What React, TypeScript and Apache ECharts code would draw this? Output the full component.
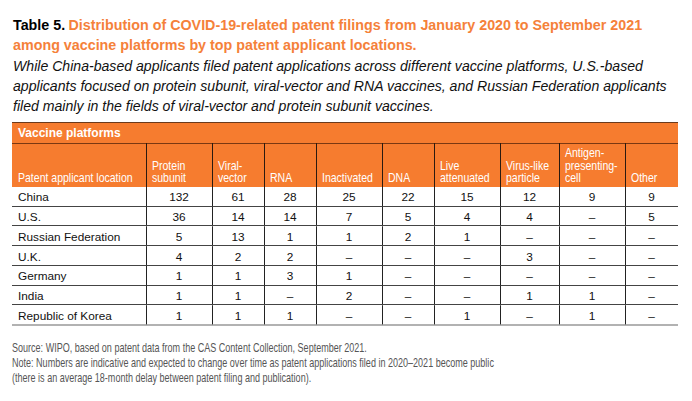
import React, { useEffect, useRef } from "react";
import * as echarts from "echarts";

// ---- data ----
const locations = ["China", "U.S.", "Russian Federation", "U.K.", "Germany", "India", "Republic of Korea"];
const platformHeaders = [
  ["Patent applicant location"],
  ["Protein", "subunit"],
  ["Viral-", "vector"],
  ["RNA"],
  ["Inactivated"],
  ["DNA"],
  ["Live", "attenuated"],
  ["Virus-like", "particle"],
  ["Antigen-", "presenting-", "cell"],
  ["Other"],
];
const proteinSubunit = [132, 36, 5, 4, 1, 1, 1];
const viralVector = [61, 14, 13, 2, 1, 1, 1];
const rna = [28, 14, 1, 2, 3, null, 1];
const inactivated = [25, 7, 1, null, 1, 2, null];
const dna = [22, 5, 2, null, null, null, null];
const liveAttenuated = [15, 4, 1, null, null, null, 1];
const virusLikeParticle = [12, 4, null, 3, null, 1, null];
const antigenPresentingCell = [9, null, null, null, null, 1, 1];
const other = [9, 5, null, null, null, null, null];
const platformValues = [proteinSubunit, viralVector, rna, inactivated, dna, liveAttenuated, virusLikeParticle, antigenPresentingCell, other];

const titleLead = "Table 5.";
const titleLine1 = "Distribution of COVID-19-related patent filings from January 2020 to September 2021";
const titleLine2 = "among vaccine platforms by top patent applicant locations.";
const subtitleLines = [
  "While China-based applicants filed patent applications across different vaccine platforms, U.S.-based",
  "applicants focused on protein subunit, viral-vector and RNA vaccines, and Russian Federation applicants",
  "filed mainly in the fields of viral-vector and protein subunit vaccines.",
];
const bandLabel = "Vaccine platforms";
const footnotes = [
  "Source: WIPO, based on patent data from the CAS Content Collection, September 2021.",
  "Note: Numbers are indicative and expected to change over time as patent applications filed in 2020\u20132021 become public",
  "(there is an average 18-month delay between patent filing and publication).",
];

// ---- layout ----
const COL_WIDTHS = [134, 66, 52, 52, 66, 52, 66, 59, 66, 53];
const EDGES = COL_WIDTHS.reduce((acc: number[], w) => { acc.push(acc[acc.length - 1] + w); return acc; }, [0]);
const TOTAL = EDGES[EDGES.length - 1];
const LEFT = 12;
const RIGHT = 14;
const BAND_TOP = 122;
const HEAD_TOP = 143;
const HEAD_BOTTOM = 187;
const TABLE_BOTTOM = 325;
const ORANGE = "#F67C2F";
const SANS = "'Liberation Sans', Arial, Helvetica, sans-serif";

function cellText(c: number, r: number): string {
  if (c === 0) return locations[r];
  const v = platformValues[c - 1][r];
  return v == null ? "\u2013" : String(v);
}

export default function App() {
  const ref = useRef<HTMLDivElement>(null);
  useEffect(() => {
    if (!ref.current) return;
    const chart = echarts.init(ref.current, null, { renderer: "svg" });
    const data: number[][] = [];
    for (let r = 0; r < locations.length; r++) for (let c = 0; c < COL_WIDTHS.length; c++) data.push([c, r]);

    const W = 692 - LEFT - RIGHT;
    const px = (u: number) => LEFT + (u / TOTAL) * W;

    const graphics: any[] = [];
    graphics.push({
      type: "text", left: 13, top: 18,
      style: {
        text: "{a|" + titleLead + "} {b|" + titleLine1 + "}",
        rich: {
          a: { fontFamily: SANS, fontSize: 14.3, fontWeight: "bold", fill: "#000" },
          b: { fontFamily: SANS, fontSize: 14.3, fontWeight: "bold", fill: "#F5813A" },
        },
      },
    });
    graphics.push({
      type: "text", left: 13, top: 38,
      style: { text: titleLine2, fontFamily: SANS, fontSize: 14.3, fontWeight: "bold", fill: "#F5813A" },
    });
    subtitleLines.forEach((t, i) => {
      graphics.push({
        type: "text", left: 13, top: 59 + i * 20,
        style: { text: t, fontFamily: SANS, fontSize: 14.1, fontStyle: "italic", fill: "#111" },
      });
    });
    // band + header
    graphics.push({ type: "rect", shape: { x: LEFT, y: BAND_TOP, width: W, height: HEAD_BOTTOM - BAND_TOP }, style: { fill: ORANGE } });
    graphics.push({ type: "line", shape: { x1: LEFT, y1: BAND_TOP + 0.5, x2: LEFT + W, y2: BAND_TOP + 0.5 }, style: { stroke: "#6b3a1c", lineWidth: 1 } });
    graphics.push({ type: "line", shape: { x1: LEFT, y1: HEAD_TOP + 0.5, x2: LEFT + W, y2: HEAD_TOP + 0.5 }, style: { stroke: "#7a3812", lineWidth: 1 } });
    graphics.push({
      type: "text", x: LEFT + 6, y: (BAND_TOP + HEAD_TOP) / 2 + 0.5,
      style: { text: bandLabel, fontFamily: SANS, fontSize: 12, fontWeight: "bold", fill: "#fff", verticalAlign: "middle" },
    });
    for (let c = 1; c < COL_WIDTHS.length; c++) {
      const x = Math.round(px(EDGES[c])) + 0.5;
      graphics.push({ type: "line", shape: { x1: x, y1: HEAD_TOP, x2: x, y2: HEAD_BOTTOM }, style: { stroke: "#2a1a10", lineWidth: 1 } });
    }
    platformHeaders.forEach((lines, c) => {
      const n = lines.length;
      lines.forEach((t, i) => {
        graphics.push({
          type: "text", x: px(EDGES[c]) + 6, y: 178 - (n - 1 - i) * 12.5, scaleX: 0.81,
          style: { text: t, fontFamily: SANS, fontSize: 13, fill: "#fff", verticalAlign: "middle" },
        });
      });
    });
    footnotes.forEach((t, i) => {
      graphics.push({
        type: "text", x: 12, y: 347.5 + i * 15, scaleX: 0.735,
        style: { text: t, fontFamily: SANS, fontSize: 12.3, fill: "#555", verticalAlign: "middle" },
      });
    });

    chart.setOption({
      animation: false,
      grid: { left: LEFT, right: RIGHT, top: HEAD_BOTTOM, bottom: 401 - TABLE_BOTTOM },
      xAxis: { type: "value", min: 0, max: TOTAL, show: false },
      yAxis: { type: "category", data: locations, inverse: true, show: false },
      graphic: graphics,
      series: [
        {
          type: "custom",
          data,
          encode: { x: 0, y: 1 },
          renderItem: (params: any, api: any) => {
            const c = api.value(0);
            const r = api.value(1);
            const x0 = api.coord([EDGES[c], r])[0];
            const x1 = api.coord([EDGES[c + 1], r])[0];
            const yc = api.coord([0, r])[1];
            const h = api.size([0, 1])[1];
            const yb = Math.round(yc + h / 2);
            const last = r === locations.length - 1;
            const children: any[] = [];
            children.push({
              type: "text",
              style: {
                text: cellText(c, r),
                x: c === 0 ? x0 + 6 : (x0 + x1) / 2,
                y: yc + 0.5,
                align: c === 0 ? "left" : "center",
                verticalAlign: "middle",
                fontFamily: SANS,
                fontSize: 11.8,
                fill: "#111",
              },
            });
            children.push({
              type: "line",
              shape: { x1: x0, y1: yb - (last ? 0 : 0.5), x2: x1, y2: yb - (last ? 0 : 0.5) },
              style: { stroke: last ? "#999" : "#444", lineWidth: last ? 1.6 : 1 },
            });
            if (c < COL_WIDTHS.length - 1) {
              const xr = Math.round(x1) + 0.5;
              children.push({
                type: "line",
                shape: { x1: xr, y1: yc - h / 2, x2: xr, y2: yc + h / 2 },
                style: { stroke: "#222", lineWidth: 1 },
              });
            }
            return { type: "group", children };
          },
        },
      ],
    });
    return () => chart.dispose();
  }, []);
  return <div ref={ref} style={{ width: 692, height: 401, position: "absolute", left: 0, top: 0, background: "#fff" }} />;
}
